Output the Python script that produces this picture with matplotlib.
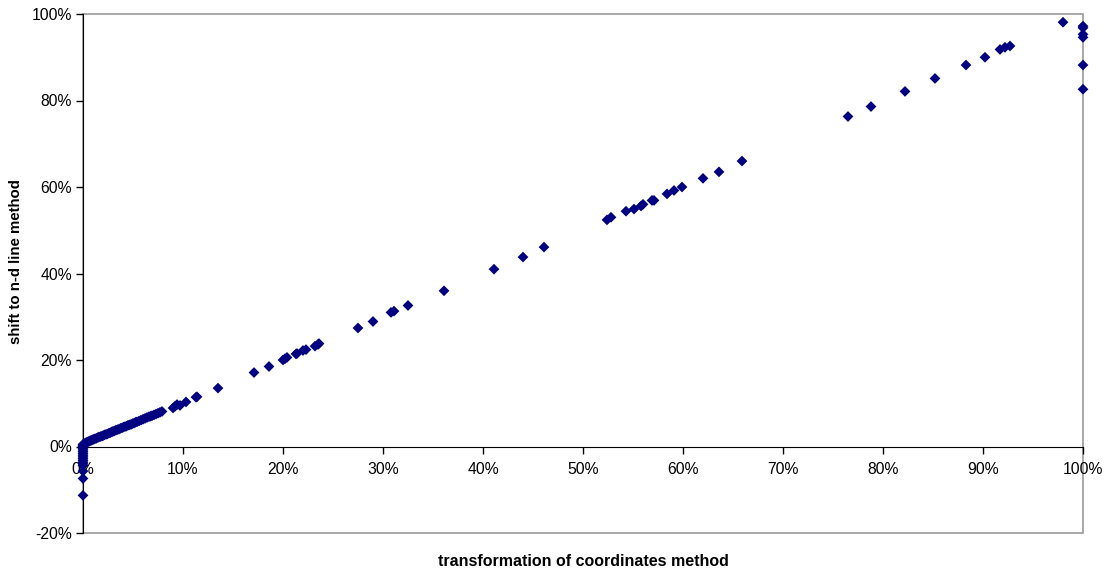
import matplotlib
matplotlib.use("Agg")
import matplotlib.pyplot as plt
from matplotlib.patches import Rectangle
from matplotlib.ticker import FixedLocator, FuncFormatter

plt.rcParams['font.family'] = ['Liberation Sans', 'DejaVu Sans']

# Percent values: x = transformation of coordinates, y = shift to n-d line
x_zero_col = [0.0, 0.0, 0.0, 0.0, 0.0, 0.0, 0.0, 0.0, 0.0, 0.0, 0.0, 0.0,
              0.0, 0.0, 0.0, 0.0, 0.0, 0.0]
y_zero_col = [0.5, 0.3, 0.1, 0.0, -0.4, -0.8, -1.2, -1.6, -2.0, -2.4, -2.8,
              -3.2, -3.6, -4.0, -4.4, -5.7, -7.4, -11.3]

x_low = [0.05, 0.1, 0.15, 0.2, 0.3, 0.4, 0.5, 0.6, 0.7, 0.8, 0.9, 1.0, 1.1,
         1.2, 1.35, 1.5, 1.6, 1.75, 1.9, 2.0, 2.15, 2.3, 2.45, 2.6, 2.75,
         2.9, 3.0, 3.15, 3.3, 3.45, 3.6, 3.75, 3.9, 4.05, 4.2, 4.35, 4.5,
         4.65, 4.8, 4.95, 5.1, 5.25, 5.4, 5.6, 5.8, 6.0, 6.2, 6.4, 6.6,
         6.75, 6.9, 7.1, 7.3, 7.5, 7.7, 7.9]
y_low = [0.3, 0.5, 0.6, 0.7, 0.9, 1.0, 1.1, 1.2, 1.3, 1.4, 1.5, 1.6, 1.7,
         1.8, 1.9, 2.1, 2.2, 2.3, 2.4, 2.5, 2.7, 2.8, 2.9, 3.1, 3.2, 3.4,
         3.5, 3.6, 3.8, 3.9, 4.0, 4.2, 4.3, 4.5, 4.6, 4.7, 4.9, 5.0, 5.1,
         5.3, 5.4, 5.6, 5.7, 5.9, 6.1, 6.3, 6.5, 6.7, 6.9, 7.0, 7.1, 7.3,
         7.5, 7.7, 7.9, 8.1]

x_mid = [9.0, 9.2, 9.4, 9.7, 10.3, 11.3, 11.4, 13.5, 17.1, 18.6, 20.0, 20.2,
         20.4, 21.3, 21.4, 22.0, 22.3, 23.2, 23.5, 23.6, 27.5, 29.0, 30.8,
         31.1, 32.5, 36.1, 41.1, 44.0, 46.1, 52.4, 52.8, 54.3, 55.1, 55.8,
         56.0, 56.9, 57.1, 58.4, 59.1, 59.9, 62.0, 63.6, 65.9]
y_mid = [8.9, 9.3, 9.7, 9.5, 10.3, 11.4, 11.5, 13.5, 17.1, 18.5, 20.0, 20.3,
         20.6, 21.4, 21.5, 22.2, 22.4, 23.2, 23.6, 23.8, 27.4, 28.9, 31.0,
         31.3, 32.6, 36.0, 41.0, 43.8, 46.1, 52.4, 53.0, 54.4, 54.9, 55.6,
         56.0, 56.9, 56.9, 58.4, 59.2, 60.0, 62.0, 63.5, 66.0]

x_high = [76.5, 78.8, 82.2, 85.2, 88.3, 90.2, 91.7, 92.2, 92.7, 98.0,
          100.0, 100.0, 100.0, 100.0, 100.0, 100.0]
y_high = [76.3, 78.6, 82.1, 85.1, 88.2, 90.0, 91.8, 92.3, 92.6, 98.1,
          97.2, 96.8, 95.3, 94.6, 88.2, 82.6]

x_ticks = [0, 10, 20, 30, 40, 50, 60, 70, 80, 90, 100]
y_ticks = [-20, 0, 20, 40, 60, 80, 100]

x_vals = x_zero_col + x_low + x_mid + x_high
y_vals = y_zero_col + y_low + y_mid + y_high

fig = plt.figure(figsize=(11.05, 5.71), dpi=100)
ax = fig.add_axes([83 / 1105, 38 / 571, 1000 / 1105, 519 / 571])

ax.scatter(x_vals, y_vals, marker='D', s=30, color='#000080',
           edgecolors='none', zorder=3, clip_on=False)

ax.set_xlim(0, 100)
ax.set_ylim(-20, 100)

# Outer frame in grey, axes lines in black
for side in ('top', 'right'):
    ax.spines[side].set_visible(False)
ax.spines['bottom'].set_position(('data', 0))
ax.spines['bottom'].set_color('black')
ax.spines['left'].set_color('black')
ax.spines['bottom'].set_zorder(2)
ax.spines['left'].set_zorder(2)
ax.add_patch(Rectangle((0, 0), 1, 1, transform=ax.transAxes, fill=False,
                       edgecolor='#999999', linewidth=1.2, zorder=1,
                       clip_on=False))

pct = FuncFormatter(lambda v, p: f"{v:.0f}%")
ax.xaxis.set_major_locator(FixedLocator(x_ticks))
ax.yaxis.set_major_locator(FixedLocator(y_ticks))
ax.xaxis.set_major_formatter(pct)
ax.yaxis.set_major_formatter(pct)
ax.tick_params(axis='both', direction='out', length=5, width=1,
               labelsize=11.3, colors='black')
ax.tick_params(axis='x', pad=6)
ax.tick_params(axis='y', pad=3)

fig.text(583 / 1105, 1 - 561 / 571, 'transformation of coordinates method',
         ha='center', va='center', fontsize=11.5, fontweight='bold')
fig.text(16 / 1105, 1 - 262 / 571, 'shift to n-d line method',
         ha='center', va='center', rotation=90, fontsize=10.8,
         fontweight='bold')

fig.savefig('out.png', dpi=100)
